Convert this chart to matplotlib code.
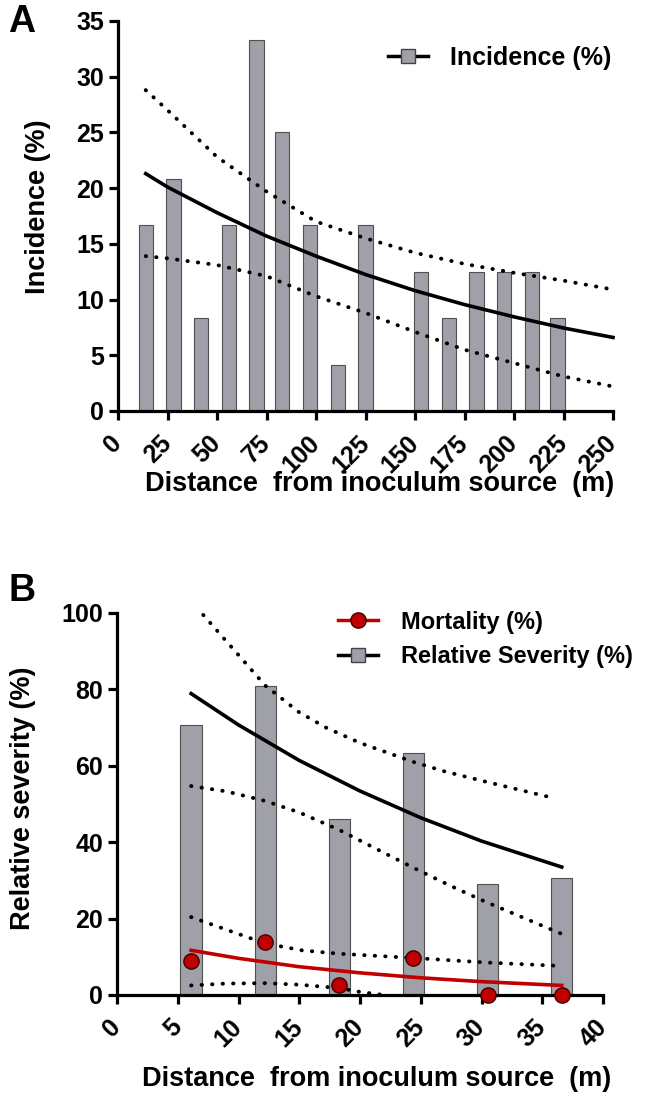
import matplotlib.pyplot as plt
from matplotlib.lines import Line2D

plt.rcParams['font.family'] = ['Liberation Sans', 'DejaVu Sans']
plt.rcParams['font.weight'] = 'bold'

# panel A: incidence vs distance
dist_a = [14, 28, 42, 56, 70, 83, 97, 111, 125, 139, 153, 167, 181, 195, 209, 222]
incidence = [16.67, 20.83, 8.33, 16.67, 33.33, 25.0, 16.67, 4.17, 16.67, 0,
             12.5, 8.33, 12.5, 12.5, 12.5, 8.33]
fit_x_a = [14, 25, 50, 75, 100, 125, 150, 175, 200, 225, 250]
fit_a = [21.3, 20.1, 17.8, 15.7, 13.9, 12.25, 10.8, 9.55, 8.45, 7.45, 6.6]
upper_a = [28.8, 27.0, 22.8, 19.7, 17.0, 15.5, 14.2, 13.2, 12.4, 11.7, 10.9]
lower_a = [13.9, 13.7, 13.1, 12.1, 10.3, 8.8, 7.1, 5.5, 4.3, 3.1, 2.2]

# panel B: severity / mortality vs distance
dist_b = [6.1, 12.2, 18.3, 24.4, 30.5, 36.6]
severity = [70.6, 81.0, 46.0, 63.4, 29.0, 30.6]
mortality = [8.8, 13.8, 2.7, 9.7, 0, 0]
fit_x_b = [6.1, 10, 15, 20, 25, 30, 36.6]
sev_fit = [78.9, 70.7, 61.4, 53.4, 46.4, 40.3, 33.5]
mort_fit = [11.7, 9.6, 7.4, 5.8, 4.5, 3.5, 2.5]
sev_up_x = [7.1, 9, 10, 12.2, 15, 17.2, 20, 24.4, 27, 30.4, 36]
sev_up = [99.5, 92.6, 89.0, 81.0, 74.0, 70.0, 66.0, 61.0, 58.5, 55.8, 51.5]
sev_lo_x = [6.1, 9, 12.2, 15, 18.3, 21, 24.4, 27.5, 30.4, 36.6]
sev_lo = [54.7, 53.3, 50.8, 47.8, 43.2, 38.8, 33.3, 28.5, 24.3, 16.0]
mort_up_x = [6.1, 9, 12.2, 15.2, 18.3, 24.4, 30.4, 36.6]
mort_up = [20.4, 17.1, 13.5, 11.7, 10.8, 9.7, 8.5, 7.6]
mort_lo_x = [6.1, 9, 12.2, 15, 18.3, 20, 22]
mort_lo = [2.5, 3.0, 3.1, 2.7, 1.8, 0.8, 0.0]

bar_col = '#a0a0a8'
red = '#c00000'
dots = (0, (0.1, 2.6))
fs = 18
lfs = 19.5

fig = plt.figure(figsize=(6.51, 10.97), dpi=100)
W, H = 651, 1097
axA = fig.add_axes([118 / W, 1 - 411 / H, (613 - 118) / W, (411 - 21) / H])
axB = fig.add_axes([117 / W, 1 - 995 / H, (603 - 117) / W, (995 - 613) / H])


def style(ax):
    for s in ['top', 'right']:
        ax.spines[s].set_visible(False)
    for s in ['left', 'bottom']:
        ax.spines[s].set_linewidth(2.3)
    ax.tick_params(width=2.3, length=6.5, labelsize=fs)
    ax.tick_params(axis='y', pad=3.5)
    ax.tick_params(axis='x', pad=14)
    for lab in ax.get_xticklabels():
        lab.set_rotation(45)
        lab.set_ha('right')
        lab.set_va('center')
        lab.set_rotation_mode('anchor')
    for lab in ax.get_xticklabels() + ax.get_yticklabels():
        lab.set_fontweight('bold')


def band(ax, x, y):
    ax.plot(x, y, color='black', lw=2.8, ls=dots, dash_capstyle='round', zorder=3, clip_on=False)


# ---- A ----
axA.bar(dist_a, incidence, width=7.2, color=bar_col, edgecolor='#505050', linewidth=0.8, zorder=2)
axA.plot(fit_x_a, fit_a, color='black', lw=2.6, zorder=3, clip_on=False)
band(axA, fit_x_a, upper_a)
band(axA, fit_x_a, lower_a)
axA.set_xlim(0, 250)
axA.set_ylim(0, 35)
axA.set_xticks(range(0, 251, 25))
axA.set_yticks(range(0, 36, 5))
style(axA)
axA.set_ylabel('Incidence (%)', fontsize=lfs, fontweight='bold')
axA.yaxis.set_label_coords(-0.135, 0.523)
axA.set_xlabel('Distance  from inoculum source  (m)', fontsize=lfs, fontweight='bold')
axA.xaxis.set_label_coords(0.529, -0.154)
hA = [Line2D([], [], color='black', lw=2.5, marker='s', markersize=10,
             markerfacecolor=bar_col, markeredgecolor='#444444')]
fig.legend(hA, ['Incidence (%)'], loc='center left', bbox_to_anchor=(388 / W, 1 - 58 / H),
           frameon=False, borderpad=0, borderaxespad=0,
           handlelength=1.6, handletextpad=0.9, prop={'weight': 'bold', 'size': fs})

# ---- B ----
axB.bar(dist_b, severity, width=1.75, color=bar_col, edgecolor='#505050', linewidth=0.8, zorder=2)
axB.plot(fit_x_b, sev_fit, color='black', lw=2.6, zorder=3)
band(axB, sev_up_x, sev_up)
band(axB, sev_lo_x, sev_lo)
band(axB, mort_up_x, mort_up)
band(axB, mort_lo_x, mort_lo)
axB.plot(fit_x_b, mort_fit, color=red, lw=2.6, zorder=4)
axB.plot(dist_b, mortality, ls='none', marker='o', markersize=11, markerfacecolor=red,
         markeredgecolor='#400000', markeredgewidth=1.0, zorder=5, clip_on=False)
axB.set_xlim(0, 40)
axB.set_ylim(0, 100)
axB.set_xticks(range(0, 41, 5))
axB.set_yticks(range(0, 101, 20))
style(axB)
axB.set_ylabel('Relative severity (%)', fontsize=lfs, fontweight='bold')
axB.yaxis.set_label_coords(-0.167, 0.516)
axB.set_xlabel('Distance  from inoculum source  (m)', fontsize=lfs, fontweight='bold')
axB.xaxis.set_label_coords(0.535, -0.186)
hB = [Line2D([], [], color=red, lw=2.5, marker='o', markersize=11,
             markerfacecolor=red, markeredgecolor='#400000'),
      Line2D([], [], color='black', lw=2.5, marker='s', markersize=10,
             markerfacecolor=bar_col, markeredgecolor='#444444')]
fig.legend(hB, ['Mortality (%)', 'Relative Severity (%)'], loc='center left',
           bbox_to_anchor=(338 / W, 1 - 639.5 / H), frameon=False, borderpad=0,
           borderaxespad=0, handlelength=1.7, handletextpad=0.95, labelspacing=0.5,
           prop={'weight': 'bold', 'size': 17})

fig.text(22 / W, 1 - 22 / H, 'A', fontsize=27, fontweight='bold', ha='center', va='center')
fig.text(22 / W, 1 - 591 / H, 'B', fontsize=27, fontweight='bold', ha='center', va='center')

fig.savefig('out.png', dpi=100)
